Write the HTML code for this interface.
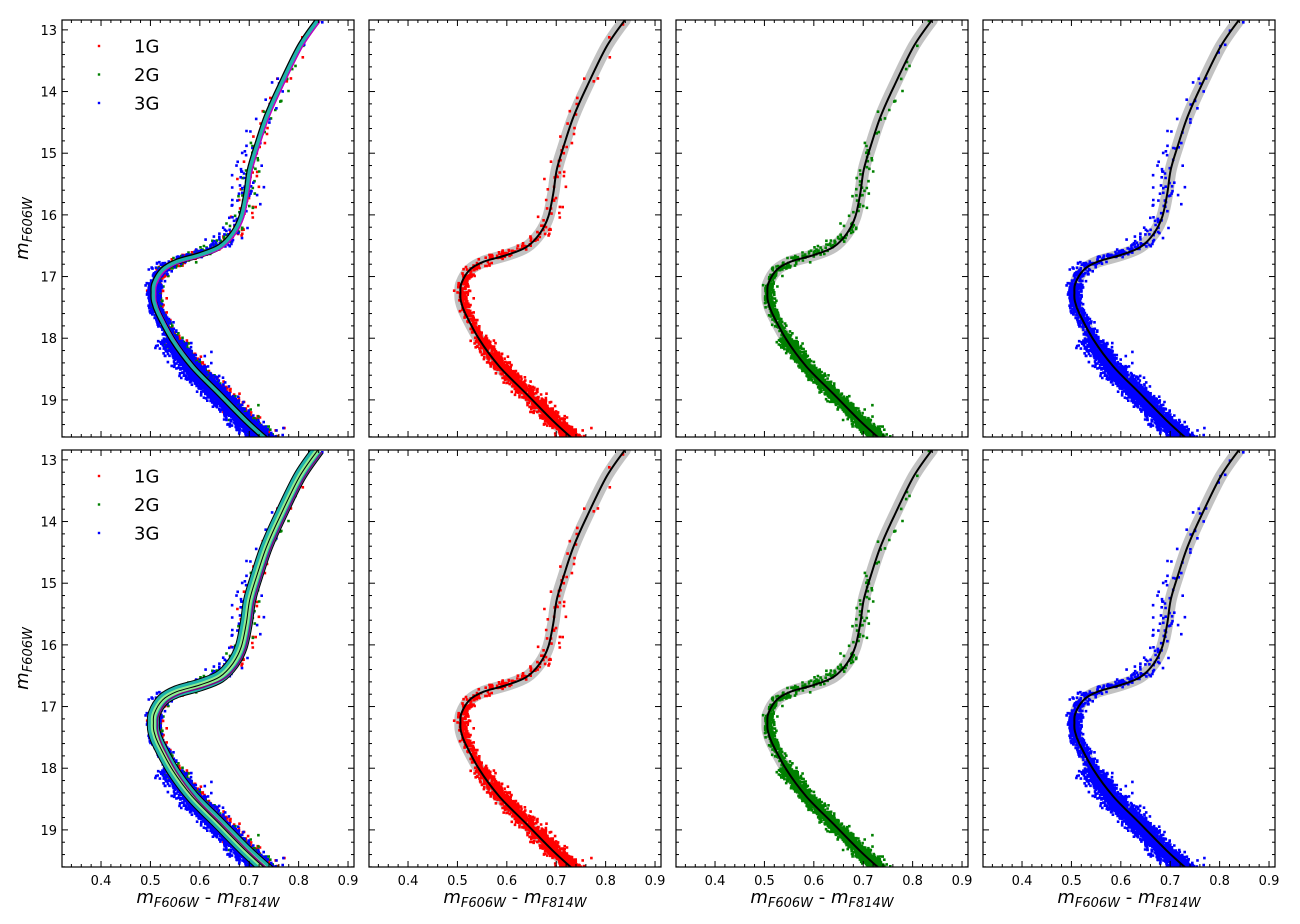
<!DOCTYPE html>
<html><head><meta charset="utf-8">
<style>
html,body{margin:0;padding:0;background:#fff;}
svg{display:block;font-family:"DejaVu Sans","Liberation Sans",sans-serif;}
</style></head>
<body>
<svg id="fig" width="1300" height="924" viewBox="0 0 1300 924" xmlns="http://www.w3.org/2000/svg"></svg>
<script>
// Fiducial line (color, magnitude)
const fidColor = [0.839,0.802,0.762,0.735,0.715,0.701,0.694,0.684,0.667,0.640,0.600,0.553,0.525,0.508,0.506,0.507,0.516,0.545,0.585,0.638,0.692,0.729,0.745];
const fidMag   = [12.84,13.27,13.92,14.41,14.89,15.27,15.65,16.03,16.30,16.52,16.65,16.76,16.89,17.11,17.27,17.40,17.60,18.03,18.46,18.89,19.33,19.60,19.70];
// stars per fiducial segment for each population
const groups = ['1G','2G','3G'];
const groupColors = ['#ff0000','#008000','#0000ff'];
const starsPerSeg1G = [2,4,4,5,8,10,12,12,14,22,25,25,30,40,40,50,90,260,330,360,340,110];
const starsPerSeg2G = [2,4,5,6,9,11,13,13,15,24,28,28,34,45,45,60,110,320,400,430,400,130];
const starsPerSeg3G = [3,6,6,8,12,16,18,18,22,35,40,40,55,80,80,100,180,520,640,680,600,190];
const groupShift = [0.004,0.001,-0.005];
const groupSpread = [0.010,0.009,0.013];
const xTicks = [0.4,0.5,0.6,0.7,0.8,0.9];
const yTicks = [13,14,15,16,17,18,19];
const legendLabels = ['1G','2G','3G'];

const NS='http://www.w3.org/2000/svg';
const svg=document.getElementById('fig');
const cols=[62,369,676,983], rows=[20,450], PW=292, PH=417;
const C0=0.321, PXC=494, M0=12.84, PXM=61.67;
function el(t,a,p){const e=document.createElementNS(NS,t);for(const k in a)e.setAttribute(k,a[k]);(p||svg).appendChild(e);return e;}
function xs(l,c){return l+(c-C0)*PXC;}
function ys(t,m){return t+(m-M0)*PXM;}

let seed=12345;
function rnd(){seed=(seed*1103515245+12345)%2147483648;return seed/2147483648;}
function gauss(){let u=rnd()||1e-9,v=rnd();return Math.sqrt(-2*Math.log(u))*Math.cos(2*Math.PI*v);}

const counts=[starsPerSeg1G,starsPerSeg2G,starsPerSeg3G];
const stars=groups.map((g,gi)=>{
  const out=[];
  for(let s=0;s<fidColor.length-1;s++){
    const n=counts[gi][s]||0;
    const dc=fidColor[s+1]-fidColor[s], dm=fidMag[s+1]-fidMag[s];
    const horiz=Math.abs(dm/(dc||1e-6))<4;
    const turnoff=(s>=12&&s<=16);
    for(let k=0;k<n;k++){
      const f=rnd();
      let c=fidColor[s]+dc*f;
      let m=fidMag[s]+dm*f;
      if(horiz && s<12){
        m+=-0.03+gauss()*0.035;
        c+=gauss()*0.006;
      }else{
        let sp=groupSpread[gi]*(s<9?1.1:1);
        let sh=groupShift[gi];
        if(turnoff){sp*=0.55;sh=sh*0.5+0.003;}
        c+=sh+gauss()*sp;
        m+=gauss()*0.015;
      }
      if(rnd()<0.006) c+=(rnd()-0.5)*0.08;
      out.push([c,m]);
    }
  }
  return out;
});

function curvePath(l,t){
  const pts=fidColor.map((c,i)=>[xs(l,c),ys(t,fidMag[i])]);
  let d='M'+pts[0][0].toFixed(1)+','+pts[0][1].toFixed(1);
  for(let i=0;i<pts.length-1;i++){
    const p0=pts[i-1]||pts[i],p1=pts[i],p2=pts[i+1],p3=pts[i+2]||p2;
    const c1=[p1[0]+(p2[0]-p0[0])/6,p1[1]+(p2[1]-p0[1])/6];
    const c2=[p2[0]-(p3[0]-p1[0])/6,p2[1]-(p3[1]-p1[1])/6];
    d+='C'+c1.map(v=>v.toFixed(1)).join(',')+' '+c2.map(v=>v.toFixed(1)).join(',')+' '+p2[0].toFixed(1)+','+p2[1].toFixed(1);
  }
  return d;
}

const defs=el('defs',{});
let pid=0;
rows.forEach((t,ri)=>{
  cols.forEach((l,ci)=>{
    pid++;
    const g=el('g',{});
    
    
    const cp=el('clipPath',{id:'cp'+pid},defs);
    el('rect',{x:l,y:t,width:PW,height:PH},cp);
    const plot=el('g',{'clip-path':'url(#cp'+pid+')'},g);
    const gl=ci===0?[0,1,2]:[ci-1];
    if(ci>0){
      const band=el('path',{d:curvePath(l,t),fill:'none',stroke:'#999','stroke-width':12,'stroke-opacity':0.6,'stroke-linecap':'round'},plot);
      
      
    }
    gl.forEach(gi=>{
      let d='';
      stars[gi].forEach(p=>{
        const x=xs(l,p[0]),y=ys(t,p[1]);
        d+='M'+(x-1.3).toFixed(1)+' '+(y-1.3).toFixed(1)+'h2.6v2.6h-2.6z';
      });
      const sp=el('path',{d:d,fill:groupColors[gi]},plot);
      
      
    });
    const d=curvePath(l,t);
    if(ci===0){
      if(ri===0){
        el('path',{d:d,fill:'none',stroke:'#000','stroke-width':6},plot);
        el('path',{d:d,fill:'none',stroke:'#c000c0','stroke-width':2,transform:'translate(2,1)'},plot);
        const ln=el('path',{d:d,fill:'none',stroke:'#20b2aa','stroke-width':3.5},plot);
        
        
      }else{
        el('path',{d:d,fill:'none',stroke:'#000','stroke-width':13},plot);
        el('path',{d:d,fill:'none',stroke:'#20b2aa','stroke-width':11},plot);
        el('path',{d:d,fill:'none',stroke:'#90ee90','stroke-width':5},plot);
        el('path',{d:d,fill:'none',stroke:'#800080','stroke-width':1.5,transform:'translate(4,2)'},plot);
        const ln=el('path',{d:d,fill:'none',stroke:'#000','stroke-width':1},plot);
        
        
      }
    }else{
      const ln=el('path',{d:d,fill:'none',stroke:'#000','stroke-width':2},plot);
      
      
    }
    el('rect',{x:l,y:t,width:PW,height:PH,fill:'none',stroke:'#000','stroke-width':1.2},g);
    const tk=el('g',{stroke:'#000','stroke-width':1},g);
    for(let v=0.32;v<=0.915;v+=0.02){
      const x=xs(l,v);if(x<l||x>l+PW)continue;
      const major=Math.abs(v*10-Math.round(v*10))<1e-6;
      const len=major?6:3;
      el('line',{x1:x,y1:t+PH,x2:x,y2:t+PH-len},tk);
      el('line',{x1:x,y1:t,x2:x,y2:t+len},tk);
    }
    for(let v=13;v<=19.6;v+=0.2){
      const y=ys(t,v);if(y<t||y>t+PH)continue;
      const major=Math.abs(v-Math.round(v))<1e-6;
      const len=major?6:3;
      el('line',{x1:l,y1:y,x2:l+len,y2:y},tk);
      el('line',{x1:l+PW,y1:y,x2:l+PW-len,y2:y},tk);
    }
    if(ri===1){
      xTicks.forEach(v=>{
        const tx=el('text',{x:xs(l,v),y:t+PH+18,'font-size':13,'text-anchor':'middle'},g);
        tx.textContent=v.toFixed(1);
        
        
      });
      const xl=el('text',{x:l+PW/2,y:t+PH+36,'font-size':18,'text-anchor':'middle','font-style':'italic'},g);
      xl.innerHTML='m<tspan font-size="13" dy="4">F606W</tspan><tspan dy="-4" font-style="normal"> - </tspan>m<tspan font-size="13" dy="4">F814W</tspan>';
      
      
    }
    if(ci===0){
      yTicks.forEach(v=>{
        const ty=el('text',{x:l-5,y:ys(t,v)+5,'font-size':13,'text-anchor':'end'},g);
        ty.textContent=v;
        
        
      });
      const yl=el('text',{x:0,y:0,'font-size':18,'text-anchor':'middle','font-style':'italic',transform:'translate(28,'+(t+PH/2)+') rotate(-90)'},g);
      yl.innerHTML='m<tspan font-size="13" dy="4">F606W</tspan>';
      
      
      legendLabels.forEach((lab,i)=>{
        const lg=el('g',{},g);
        
        
        const ly=t+26+i*28.5;
        el('rect',{x:97.8,y:ly-1.2,width:2.4,height:2.4,fill:groupColors[i]},lg);
        const lt=el('text',{x:134,y:ly+6.5,'font-size':18},lg);
        lt.textContent=lab;
      });
    }
  });
});
</script>
</body></html>
